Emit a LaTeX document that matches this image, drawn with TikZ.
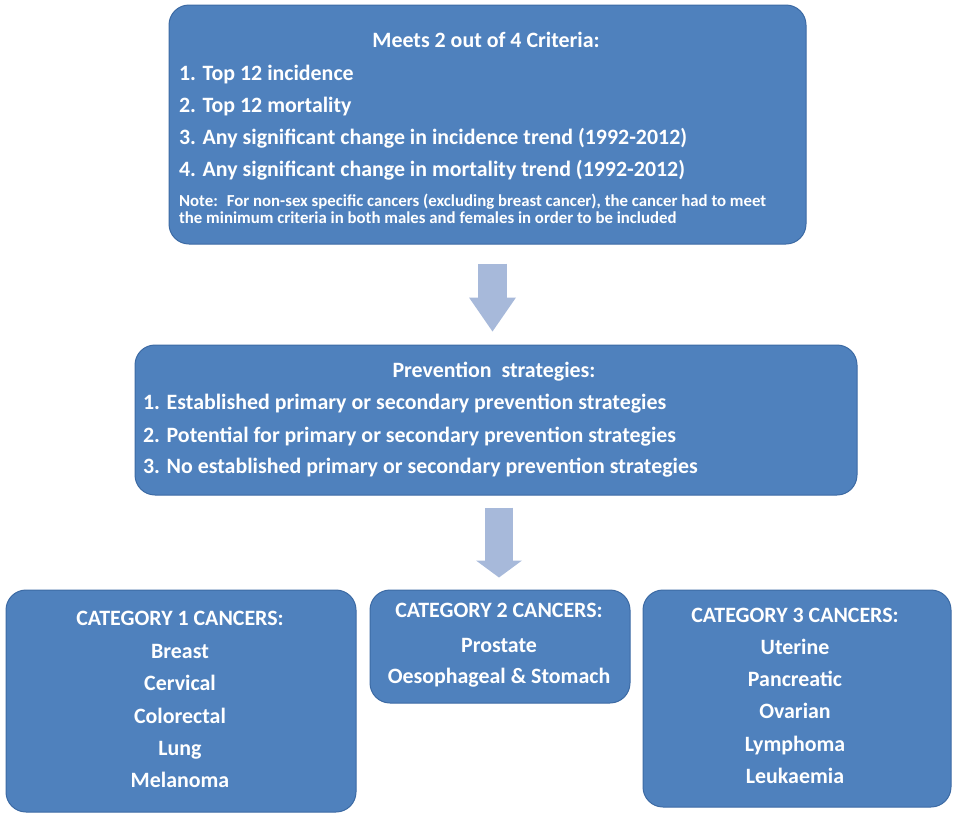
\documentclass[tikz,border=0pt]{standalone}
\usepackage{fontspec}
\setmainfont{Carlito}
\usetikzlibrary{arrows.meta,calc}

\tikzset{every picture/.style={line width=0.75pt}}
\tikzset{
  catbox/.style={draw={rgb, 255:red, 60; green, 106; blue, 164 }, fill={rgb, 255:red, 79; green, 129; blue, 189 }, line width=1pt, rounded corners=20pt, inner sep=0pt},
  txt/.style={text=white, font=\bfseries\fontsize{21.9}{26}\selectfont, inner sep=0.75pt},
  notetxt/.style={text=white, font=\bfseries\fontsize{16.8}{19}\selectfont, inner sep=0.75pt},
  downarrow/.style={color={rgb, 255:red, 167; green, 185; blue, 218 }},
}

\begin{document}
\begin{tikzpicture}[x=1pt,y=1pt,yscale=-1]
\useasboundingbox (0,0) rectangle (958,820);

%Rounded Rect [id:crit]
\node [catbox, minimum width=637pt, minimum height=239pt] (crit) at (487.5,124.5) {};
%Rounded Rect [id:prev]
\node [catbox, minimum width=722pt, minimum height=150pt] (prev) at (496,420) {};
%Rounded Rect [id:catone]
\node [catbox, minimum width=350pt, minimum height=222pt] (catone) at (181,701) {};
%Rounded Rect [id:cattwo]
\node [catbox, minimum width=260pt, minimum height=113pt] (cattwo) at (500,646.5) {};
%Rounded Rect [id:catthree]
\node [catbox, minimum width=308pt, minimum height=217pt] (catthree) at (797,698.5) {};

%Down Arrow [id:arrowa]
\draw [downarrow, line width=29pt, -{Triangle[length=34pt, width=47pt, line width=0pt]}] ($(crit.south)+(5,19)$) -- ($(prev.north)+(-3.5,-13)$) ;
%Down Arrow [id:arrowb]
\draw [downarrow, line width=28pt, -{Triangle[length=17pt, width=46pt, line width=0pt]}] ($(prev.south)+(3,12)$) -- ($(cattwo.north)+(-1,-12)$) ;

% Text Node
\draw (486,47) node [txt, anchor=base] (crithead) {Meets 2 out of 4 Criteria:};
% Text Node
\draw (178,80) node [txt, anchor=base west] (critone) {1. Top 12 incidence};
% Text Node
\draw (178,112) node [txt, anchor=base west] (crittwo) {2. Top 12 mortality};
% Text Node
\draw (178,144) node [txt, anchor=base west] (critthree) {3. Any significant change in incidence trend (1992-2012)};
% Text Node
\draw (178,176) node [txt, anchor=base west] (critfour) {4. Any significant change in mortality trend (1992-2012)};
% Text Node
\draw (178,206) node [notetxt, anchor=base west] (notea) {Note:~ For non-sex specific cancers (excluding breast cancer), the cancer had to meet};
% Text Node
\draw (178,223) node [notetxt, anchor=base west] (noteb) {the minimum criteria in both males and females in order to be included};

% Text Node
\draw (494,377) node [txt, anchor=base] (prevhead) {Prevention~ strategies:};
% Text Node
\draw (142,409) node [txt, anchor=base west] (prevone) {1. Established primary or secondary prevention strategies};
% Text Node
\draw (142,442) node [txt, anchor=base west] (prevtwo) {2. Potential for primary or secondary prevention strategies};
% Text Node
\draw (142,473) node [txt, anchor=base west] (prevthree) {3. No established primary or secondary prevention strategies};

% Text Node
\draw (180,625) node [txt, anchor=base] (catonehead) {CATEGORY 1 CANCERS:};
% Text Node
\draw (180,658) node [txt, anchor=base] (breast) {Breast};
% Text Node
\draw (180,690) node [txt, anchor=base] (cervical) {Cervical};
% Text Node
\draw (180,723) node [txt, anchor=base] (colorectal) {Colorectal};
% Text Node
\draw (180,755) node [txt, anchor=base] (lung) {Lung};
% Text Node
\draw (180,787) node [txt, anchor=base] (melanoma) {Melanoma};

% Text Node
\draw (499,617) node [txt, anchor=base] (cattwohead) {CATEGORY 2 CANCERS:};
% Text Node
\draw (499,652) node [txt, anchor=base] (prostate) {Prostate};
% Text Node
\draw (499,683) node [txt, anchor=base] (oesophageal) {Oesophageal \& Stomach};

% Text Node
\draw (795,622) node [txt, anchor=base] (catthreehead) {CATEGORY 3 CANCERS:};
% Text Node
\draw (795,654) node [txt, anchor=base] (uterine) {Uterine};
% Text Node
\draw (795,686) node [txt, anchor=base] (pancreatic) {Pancreatic};
% Text Node
\draw (795,718) node [txt, anchor=base] (ovarian) {Ovarian};
% Text Node
\draw (795,751) node [txt, anchor=base] (lymphoma) {Lymphoma};
% Text Node
\draw (795,783) node [txt, anchor=base] (leukaemia) {Leukaemia};
\end{tikzpicture}
\end{document}
